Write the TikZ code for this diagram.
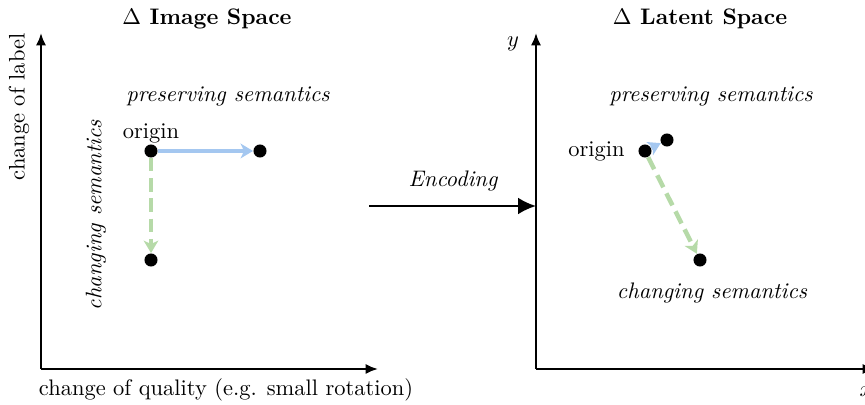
\documentclass[tikz,border=0pt]{standalone}
\usetikzlibrary{arrows.meta}
\definecolor{pblue}{RGB}{164,199,240}
\definecolor{pgreen}{RGB}{182,218,168}
\begin{document}
\begin{tikzpicture}[x=0.445pt,y=-0.445pt,
  axis/.style={line width=1pt,-{Latex[length=5.5pt,width=4.5pt]}},
  dot/.style={circle,fill=black,inner sep=0pt,minimum size=5.8pt},
  blueln/.style={pblue,line width=2pt,-{Stealth[length=5.5pt,width=6.5pt,inset=1.5pt]}},
  greenln/.style={pgreen,line width=2pt,dash pattern=on 6pt off 3pt,-{Stealth[length=5.5pt,width=6.5pt,inset=1.5pt]}},
  lbl/.style={inner sep=0pt},
  ttl/.style={inner sep=0pt,font=\bfseries}]
\useasboundingbox (0,0) rectangle (865,405);
% left panel
\node[ttl] (t1) at (207,19) {$\Delta$ Image Space};
\coordinate (o1) at (41,369);
\coordinate (y1) at (41,33);
\coordinate (x1) at (378,369);
\draw[axis] (o1) -- (y1);
\draw[axis] (o1) -- (x1);
\node[lbl,rotate=90] (yl1) at (19,107) {change of label};
\node[lbl] (xl1) at (226,390) {change of quality (e.g. small rotation)};
\node[lbl] (ps1) at (228,96) {\itshape preserving semantics};
\node[lbl] (or1) at (151,133) {origin};
\node[dot] (a) at (151,151) {};
\node[dot] (b) at (260,151) {};
\node[dot] (c) at (151,260) {};
\draw[blueln] (a) -- (b);
\draw[greenln] (a) -- (c);
\node[lbl,rotate=90] (cs1) at (96,215) {\itshape changing semantics};
% encoding
\coordinate (e1) at (369,206);
\coordinate (e2) at (536,206);
\draw[line width=1pt,-{Latex[length=8pt,width=7.5pt]}] (e1) -- (e2);
\node[lbl] (enc) at (453,181) {\itshape Encoding};
% right panel
\node[ttl] (t2) at (700,19) {$\Delta$ Latent Space};
\coordinate (o2) at (536,369);
\coordinate (y2) at (536,33);
\coordinate (x2) at (875,369);
\draw[axis] (o2) -- (y2);
\draw[axis] (o2) -- (x2);
\node[lbl] (ylab) at (513,44) {$y$};
\node[lbl] (xlab) at (866,392) {$x$};
\node[lbl] (ps2) at (711,96) {\itshape preserving semantics};
\node[dot] (d) at (645,151) {};
\node[dot] (e) at (667,140) {};
\node[dot] (f) at (700,260) {};
\node[lbl,anchor=east] (or2) at (625,151) {origin};
\draw[blueln] (d) -- (e);
\draw[greenln] (d) -- (f);
\node[lbl] (cs2) at (712,293) {\itshape changing semantics};
\end{tikzpicture}
\end{document}
